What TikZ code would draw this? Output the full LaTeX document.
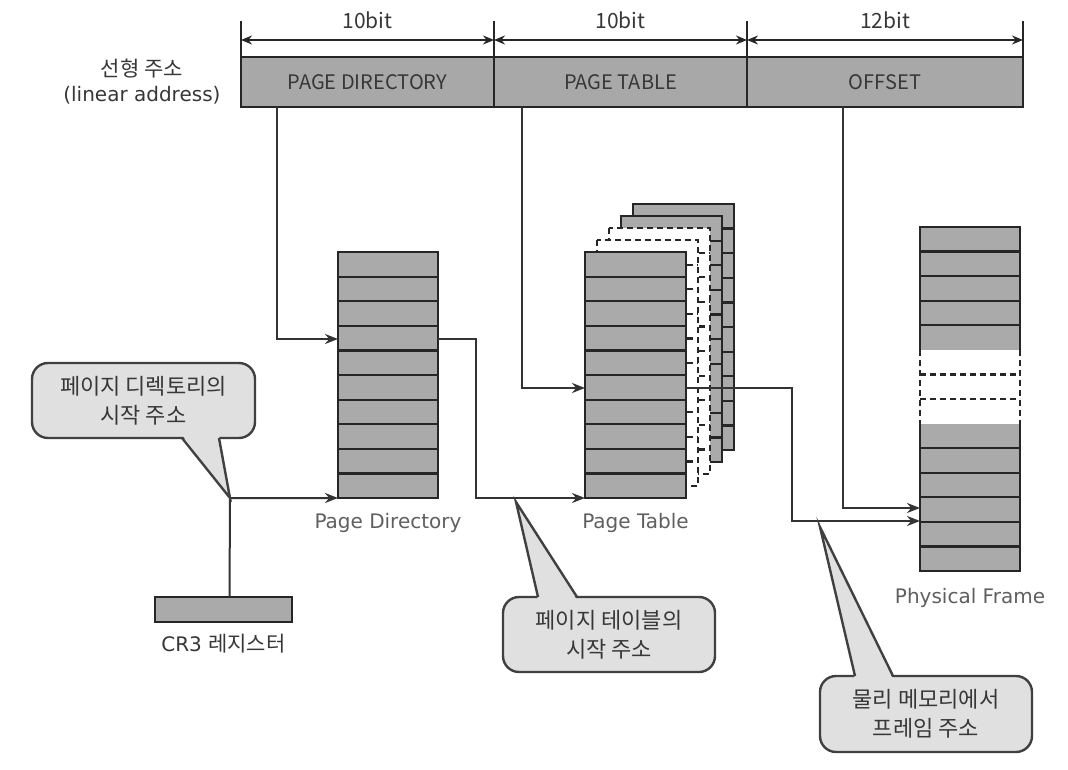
\documentclass[tikz,border=0pt]{standalone}
\usepackage{fontspec}
\setmainfont{DejaVu Sans}
\newfontfamily\kr{Noto Sans CJK KR}
\usetikzlibrary{arrows.meta,positioning,calc}

\definecolor{barGray}{RGB}{168,168,168}
\definecolor{cellGray}{RGB}{170,170,170}
\definecolor{bubbleGray}{RGB}{224,224,224}
\definecolor{capGray}{RGB}{95,95,95}
\definecolor{inkGray}{RGB}{55,55,55}

\begin{document}
\begin{tikzpicture}[x=1pt,y=-1pt]

	% styles for the address bar, the tables and the callouts
	\tikzset{
		field/.style={draw=black!85, line width=2.4pt, fill=barGray, minimum height=50,
			inner sep=0pt, outer sep=0pt, text=inkGray, font=\kr\fontsize{20}{22}\selectfont},
		bitlabel/.style={text=inkGray, font=\kr\fontsize{21}{23}\selectfont},
		caption/.style={text=capGray, font=\fontsize{20}{22}\selectfont},
		tbl/.style={draw=black!85, line width=2.6pt, fill=cellGray, inner sep=0pt, outer sep=0pt, anchor=north west},
		ghost/.style={draw=black!85, line width=2.2pt, dashed, dash pattern=on 6pt off 4pt, fill=white},
		rowline/.style={draw=black!85, line width=2.2pt},
		link/.style={draw=black!80, line width=2pt, -{Stealth[length=13pt,width=10pt]}},
		dim/.style={draw=black!85, line width=2pt, {Stealth[length=11pt,width=9pt]}-{Stealth[length=11pt,width=9pt]}},
		bubble/.style={draw=black!75, line width=2.4pt, fill=bubbleGray, rounded corners=16pt,
			align=center, text=inkGray, font=\kr\fontsize{22}{29}\selectfont, inner sep=0pt},
		pointer/.style={draw=black!75, line width=2.4pt, line join=miter}
	}
	\useasboundingbox (0,0) rectangle (1068,770);

	% linear address bar
	\node[field, minimum width=253, anchor=north west] (pdf) at (241,57) {PAGE DIRECTORY};
	\node[field, minimum width=253, right=0pt of pdf] (ptf) {PAGE TABLE};
	\node[field, minimum width=276, right=0pt of ptf] (offf) {OFFSET};

	\node[align=center, text=inkGray, font=\fontsize{20}{25}\selectfont, left=17pt of pdf.west] (linaddr) {{\kr\fontsize{21}{25}\selectfont 선형 주소}\\(linear address)};

	% bit widths
	\foreach \f in {pdf,ptf,offf}
		\draw[black!85, line width=2pt] (\f.north west) -- ++(0,-36);
	\draw[black!85, line width=2pt] (offf.north east) -- ++(0,-36);
	\draw[dim] ([yshift=17pt]pdf.north west) -- ([yshift=17pt]pdf.north east);
	\draw[dim] ([yshift=17pt]ptf.north west) -- ([yshift=17pt]ptf.north east);
	\draw[dim] ([yshift=17pt]offf.north west) -- ([yshift=17pt]offf.north east);
	\node[bitlabel] (bitdir) at ([yshift=37pt]pdf.north) {10bit};
	\node[bitlabel] (bittab) at ([yshift=37pt]ptf.north) {10bit};
	\node[bitlabel] (bitoff) at ([yshift=37pt]offf.north) {12bit};

	% page directory
	\def\rowh{24.6}
	\node[tbl, minimum width=100, minimum height=246] (pdir) at (338,252) {};
	\foreach \i in {1,...,9}
		\draw[rowline] (338,{252+\i*\rowh}) -- (438,{252+\i*\rowh});
	\node[caption, below=12pt of pdir] (pdirlbl) {Page Directory};

	% stacked page tables (back to front)
	\foreach \k in {4,3} {
		\pgfmathsetmacro{\xa}{585+12*\k}
		\pgfmathsetmacro{\ya}{252-12*\k}
		\draw[tbl] (\xa,\ya) rectangle ++(101,246);
		\foreach \i in {1,...,9}
			\draw[rowline] (\xa,{\ya+\i*\rowh}) -- ++(101,0);
	}
	\foreach \k in {2,1} {
		\pgfmathsetmacro{\xa}{585+12*\k}
		\pgfmathsetmacro{\ya}{252-12*\k}
		\draw[ghost] (\xa,\ya) rectangle ++(101,246);
		\foreach \i in {1,...,9}
			\draw[ghost] (\xa,{\ya+\i*\rowh}) -- ++(101,0);
	}
	\node[tbl, minimum width=101, minimum height=246] (ptab) at (585,252) {};
	\foreach \i in {1,...,9}
		\draw[rowline] (585,{252+\i*\rowh}) -- (686,{252+\i*\rowh});
	\node[caption, below=12pt of ptab] (ptablbl) {Page Table};

	% physical frame
	\def\frh{24.57}
	\node[minimum width=100, minimum height=344, inner sep=0pt, outer sep=0pt, anchor=north west] (pframe) at (920,227) {};
	\fill[cellGray] (920,227) rectangle (1020,{227+5*\frh});
	\fill[cellGray] (920,{227+8*\frh}) rectangle (1020,571);
	\draw[tbl] (920,{227+5*\frh}) -- (920,227) -- (1020,227) -- (1020,{227+5*\frh});
	\draw[tbl] (920,{227+8*\frh}) -- (920,571) -- (1020,571) -- (1020,{227+8*\frh});
	\foreach \i in {1,...,4,9,10,...,13}
		\draw[rowline] (920,{227+\i*\frh}) -- (1020,{227+\i*\frh});
	\draw[ghost] (920,{227+5*\frh}) -- (920,{227+8*\frh});
	\draw[ghost] (1020,{227+5*\frh}) -- (1020,{227+8*\frh});
	\foreach \i in {6,7}
		\draw[ghost] (920,{227+\i*\frh}) -- (1020,{227+\i*\frh});
	\node[caption, below=14pt of pframe] (pframelbl) {Physical Frame};

	% CR3 register
	\node[tbl, minimum width=137, minimum height=25] (cr3) at (155,597) {};
	\node[caption, text=inkGray, below=9pt of cr3] (cr3lbl) {CR3 {\kr\fontsize{21}{23}\selectfont 레지스터}};

	% hit points
	\coordinate (pdirhit) at (338,339);
	\coordinate (ptabhit) at (585,388);
	\coordinate (framehitA) at (920,521);
	\coordinate (framehitB) at (920,508);
	\coordinate (cr3bend) at (230,498);

	% connectors
	\draw[link] ($(cr3.north)+(6,0)$) -- (cr3bend) -- (pdir.south west);
	\draw[link] ($(pdf.south west)+(36,0)$) |- (pdirhit);
	\draw[link] (pdir.east |- pdirhit) -- ++(38,0) |- (ptab.south west);
	\draw[link] ($(ptf.south west)+(28,0)$) |- (ptabhit);
	\draw[link] (ptab.east |- ptabhit) -- ++(106,0) |- (framehitA);
	\draw[link] ($(offf.south west)+(96,0)$) |- (framehitB);

	% callouts
	\node[bubble, minimum width=223, minimum height=75] (calldir) at (143.5,400.5) {페이지 디렉토리의\\시작 주소};
	\fill[bubbleGray] (182,435) -- (cr3bend) -- (219,435) -- cycle;
	\draw[pointer] (182,438) -- (cr3bend) -- (219,438);

	\node[bubble, minimum width=212, minimum height=75] (calltab) at (609,634.5) {페이지 테이블의\\시작 주소};
	\coordinate (tabtip) at (516,502);
	\fill[bubbleGray] (538,600) -- (tabtip) -- (577,600) -- cycle;
	\draw[pointer] (538,597) -- (tabtip) -- (577,597);

	\node[bubble, minimum width=212, minimum height=76] (callframe) at (926,714) {물리 메모리에서\\프레임 주소};
	\coordinate (frametip) at (820,527);
	\fill[bubbleGray] (855,679) -- (frametip) -- (893,679) -- cycle;
	\draw[pointer] (855,676) -- (frametip) -- (893,676);

\end{tikzpicture}
\end{document}
